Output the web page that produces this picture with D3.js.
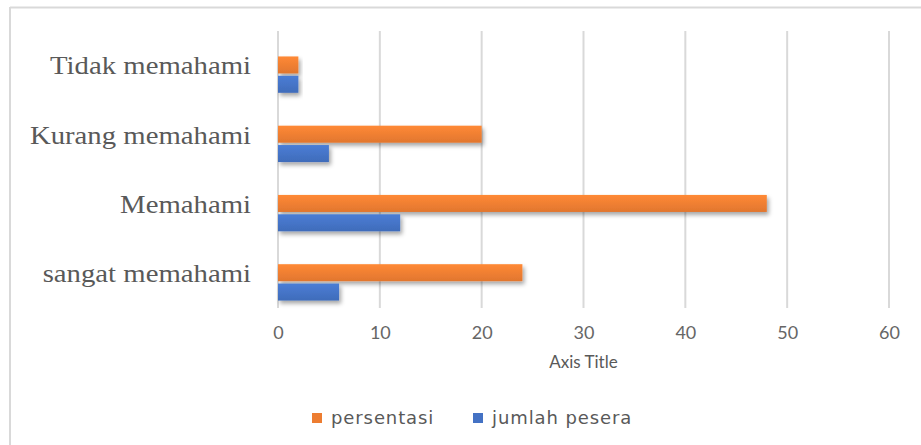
<!DOCTYPE html>
<html>
<head>
<meta charset="utf-8">
<script src="https://cdn.jsdelivr.net/npm/d3@7"></script>
<style>
  body { margin: 0; background: #fff; }
</style>
</head>
<body>
<svg id="chart" width="921" height="445"></svg>
<script>
const categories = ["Tidak memahami", "Kurang memahami", "Memahami", "sangat memahami"];
const persentasi = [2, 20, 48, 24];
const jumlahPesera = [2, 5, 12, 6];
const ticks = [0, 10, 20, 30, 40, 50, 60];
const seriesNames = ["persentasi", "jumlah pesera"];
const colors = ["#ED7D31", "#4472C4"];

const svg = d3.select("#chart");

// frame (only top and left edges show in the picture)
svg.append("line").attr("x1", 10).attr("x2", 921).attr("y1", 7.5).attr("y2", 7.5)
  .attr("stroke", "#d9d9d9").attr("stroke-width", 2);
svg.append("line").attr("x1", 10).attr("x2", 10).attr("y1", 7).attr("y2", 445)
  .attr("stroke", "#d9d9d9").attr("stroke-width", 2);

const defs = svg.append("defs");
const f = defs.append("filter").attr("id", "shadow")
  .attr("x", "-10%").attr("y", "-50%").attr("width", "130%").attr("height", "250%");
f.append("feDropShadow").attr("dx", 2).attr("dy", 3).attr("stdDeviation", 2)
  .attr("flood-color", "#000").attr("flood-opacity", 0.35);

colors.forEach((c, i) => {
  const g = defs.append("linearGradient").attr("id", "grad" + i)
    .attr("x1", 0).attr("x2", 0).attr("y1", 0).attr("y2", 1);
  g.append("stop").attr("offset", "0%").attr("stop-color", d3.color(c).brighter(0.25));
  g.append("stop").attr("offset", "100%").attr("stop-color", d3.color(c).darker(0.15));
});

const x = d3.scaleLinear().domain([0, 60]).range([278, 889]);
const y = d3.scaleBand().domain(categories).range([40, 317]);
const inner = d3.scaleBand().domain(seriesNames).range([0, y.bandwidth()]).paddingInner(0.12).paddingOuter(0.85);

// gridlines
svg.append("g").selectAll("line").data(ticks).join("line")
  .attr("x1", d => x(d)).attr("x2", d => x(d))
  .attr("y1", 31).attr("y2", 308)
  .attr("stroke", "#d9d9d9").attr("stroke-width", 2);

// bars
const rows = categories.map((c, i) => ({ cat: c, vals: [persentasi[i], jumlahPesera[i]] }));
const grp = svg.append("g");
rows.forEach(r => {
  r.vals.forEach((v, j) => {
    grp.append("rect")
      .attr("x", x(0))
      .attr("y", y(r.cat) + inner(seriesNames[j]))
      .attr("width", x(v) - x(0))
      .attr("height", inner.bandwidth())
      .attr("fill", `url(#grad${j})`)
      .attr("filter", "url(#shadow)");
  });
});

// category labels (stretched serif, like the original)
svg.append("g").selectAll("text").data(categories).join("text")
  .attr("transform", d => `translate(251,${y(d) + y.bandwidth() / 2 - 9}) scale(1.15,1)`)
  .attr("dy", "0.35em")
  .attr("text-anchor", "end")
  .attr("font-family", "'Liberation Serif', 'Times New Roman', serif")
  .attr("font-size", 25)
  .attr("fill", "#595959")
  .text(d => d);

// x axis tick labels
const xAxis = d3.axisBottom(x).tickValues(ticks).tickSize(0).tickPadding(0);
const ax = svg.append("g").attr("transform", "translate(0,326)").call(xAxis);
ax.select(".domain").remove();
ax.selectAll("text")
  .attr("font-family", "Lato, 'Open Sans', sans-serif")
  .attr("font-size", 18)
  .attr("fill", "#666");

svg.append("text")
  .attr("x", (x(0) + x(60)) / 2).attr("y", 368)
  .attr("text-anchor", "middle")
  .attr("font-family", "Lato, 'Open Sans', sans-serif")
  .attr("font-size", 17)
  .attr("fill", "#595959")
  .text("Axis Title");

// legend
const legendX = [312, 473];
const leg = svg.append("g");
seriesNames.forEach((s, i) => {
  leg.append("rect").attr("x", legendX[i]).attr("y", 413).attr("width", 10).attr("height", 10)
    .attr("fill", colors[i]);
  leg.append("text").attr("x", legendX[i] + 19).attr("y", 424)
    .attr("font-family", "'DejaVu Sans', Verdana, sans-serif")
    .attr("font-size", 18)
    .attr("letter-spacing", 0.9)
    .attr("fill", "#595959")
    .text(s);
});
</script>
</body>
</html>
